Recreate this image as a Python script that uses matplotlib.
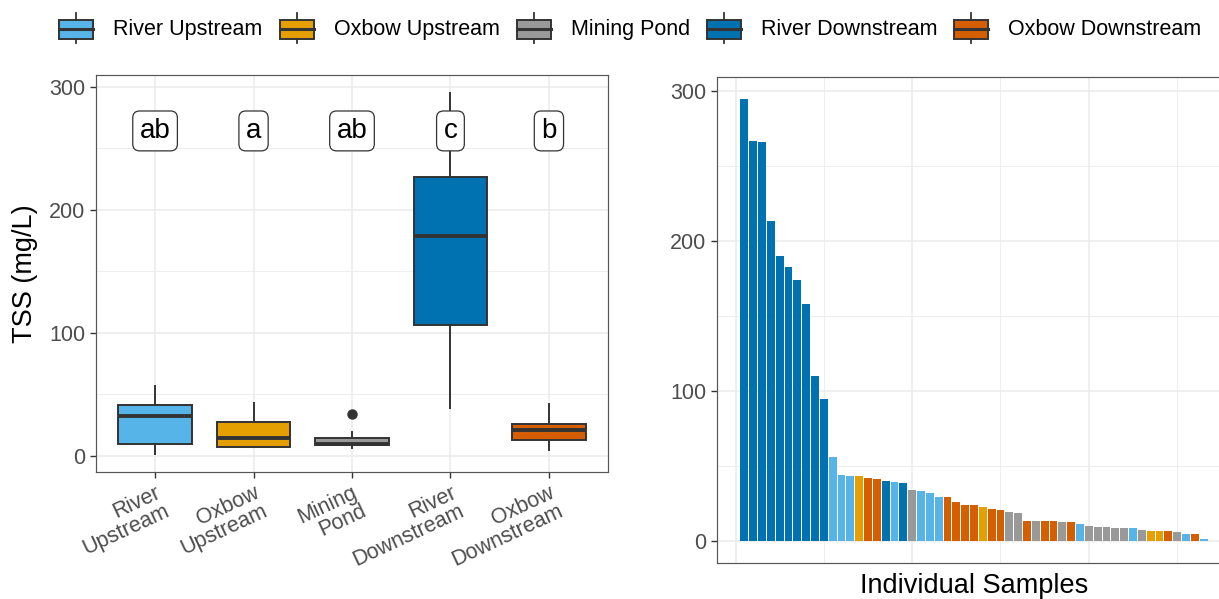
import matplotlib
matplotlib.use('Agg')
import matplotlib.pyplot as plt
import numpy as np
from matplotlib.legend_handler import HandlerBase
from matplotlib.patches import Rectangle, Patch
from matplotlib.lines import Line2D

plt.rcParams['font.family'] = ['Liberation Sans', 'DejaVu Sans']

# sites, in legend / axis order
site_codes = ['RU', 'OU', 'MP', 'RD', 'OD']
site_names = ['River Upstream', 'Oxbow Upstream', 'Mining Pond', 'River Downstream', 'Oxbow Downstream']
site_ticks = ['River\nUpstream', 'Oxbow\nUpstream', 'Mining\nPond', 'River\nDownstream', 'Oxbow\nDownstream']
site_colors = ['#56B4E9', '#E69F00', '#999999', '#0072B2', '#D55E00']
site_letters = ['ab', 'a', 'ab', 'c', 'b']

# individual samples (sorted)
sample_tss = [294.8, 266.7, 266.1, 213.6, 190.3, 182.7, 174.1, 158.1, 110.1, 94.7,
              56.3, 44.1, 43.6, 43.0, 42.3, 41.2, 40.3, 39.4, 38.5, 33.8,
              33.0, 32.1, 29.6, 29.2, 25.9, 24.1, 24.1, 22.7, 21.4, 20.7,
              19.0, 18.7, 13.4, 13.4, 13.2, 13.0, 12.7, 12.5, 11.0, 9.9,
              9.3, 9.3, 8.7, 8.7, 8.5, 7.2, 6.7, 6.7, 6.7, 6.2,
              4.7, 4.3, 1.4]
sample_site = ['RD', 'RD', 'RD', 'RD', 'RD', 'RD', 'RD', 'RD', 'RD', 'RD',
               'RU', 'RU', 'RU', 'OU', 'OD', 'OD', 'RD', 'RU', 'RD', 'MP',
               'RU', 'RU', 'RU', 'OD', 'OD', 'OD', 'OD', 'OU', 'OD', 'OD',
               'MP', 'MP', 'OD', 'MP', 'OD', 'OD', 'MP', 'OD', 'RU', 'MP',
               'MP', 'MP', 'MP', 'MP', 'RU', 'MP', 'OU', 'OU', 'OD', 'MP',
               'RU', 'OD', 'RU']

LABEL_Y = 264
EDGE = '#333333'
TICK_GREY = '#4D4D4D'
GRID = '#EBEBEB'


class BoxKey(HandlerBase):
    """legend key drawn like a little boxplot (ggplot style)"""

    def create_artists(self, legend, orig_handle, xdescent, ydescent,
                       width, height, fontsize, trans):
        x0, y0 = -xdescent, -ydescent
        fc = orig_handle.get_facecolor()
        b0 = y0 + 0.13 * height
        b1 = y0 + 0.77 * height
        xm = x0 + width / 2
        rect = Rectangle((x0, b0), width, b1 - b0, facecolor=fc, edgecolor=EDGE,
                         lw=1.4, transform=trans)
        med = Line2D([x0, x0 + width], [y0 + 0.45 * height] * 2, color=EDGE, lw=2.2, transform=trans)
        w_top = Line2D([xm, xm], [b1, y0 + height], color=EDGE, lw=1.3, transform=trans)
        w_bot = Line2D([xm, xm], [y0, b0], color=EDGE, lw=1.3, transform=trans)
        return [rect, med, w_top, w_bot]


def style_axes(ax):
    for s in ax.spines.values():
        s.set_color('#555555')
        s.set_linewidth(0.85)
    ax.set_axisbelow(True)
    ax.tick_params(axis='both', which='major', color=EDGE, width=1.0, length=4.5,
                   labelsize=15.5, labelcolor=TICK_GREY, pad=3)
    ax.tick_params(axis='both', which='minor', length=0)


tss = np.array(sample_tss)
site = np.array(sample_site)
groups = [tss[site == c] for c in site_codes]

fig = plt.figure(figsize=(12.19, 5.99), dpi=100)

# ---- left panel: boxplots ----
ax1 = fig.add_axes([96 / 1219, 1 - 472 / 599, 512 / 1219, 397 / 599])
pos = np.arange(1, len(site_codes) + 1)
bp = ax1.boxplot(groups, positions=pos, widths=0.75, patch_artist=True, whis=1.5,
                 showcaps=False,
                 boxprops=dict(edgecolor=EDGE, linewidth=1.4),
                 medianprops=dict(color=EDGE, linewidth=2.8, solid_capstyle='butt'),
                 whiskerprops=dict(color=EDGE, linewidth=1.4),
                 flierprops=dict(marker='o', markerfacecolor=EDGE, markeredgecolor=EDGE,
                                 markersize=6.5))
for patch, col in zip(bp['boxes'], site_colors):
    patch.set_facecolor(col)

for p, lab in zip(pos, site_letters):
    ax1.text(p, LABEL_Y, lab, ha='center', va='center', fontsize=20, color='black', zorder=5,
             bbox=dict(boxstyle='round,pad=0.25,rounding_size=0.25', fc='white', ec=EDGE, lw=0.9))

lo, hi = tss.min(), tss.max()
ax1.set_ylim(lo - 0.05 * (hi - lo), hi + 0.05 * (hi - lo))
ax1.set_xlim(0.4, len(site_codes) + 0.6)
ax1.set_yticks([0, 100, 200, 300])
ax1.set_yticks([50, 150, 250], minor=True)
ax1.set_xticks(pos)
ax1.set_xticklabels(site_ticks, rotation=25, ha='right', va='top', rotation_mode='anchor',
                    linespacing=0.95)
style_axes(ax1)
ax1.grid(which='major', color=GRID, lw=1.1)
ax1.grid(which='minor', axis='y', color=GRID, lw=0.6)
ax1.set_ylabel('TSS (mg/L)', fontsize=19.5, color='black', labelpad=8)

# ---- right panel: individual samples ----
ax2 = fig.add_axes([717 / 1219, 1 - 563 / 599, 514 / 1219, 486 / 599])
xs = np.arange(1, len(tss) + 1)
bar_cols = [site_colors[site_codes.index(s)] for s in sample_site]
ax2.bar(xs, tss, width=0.9, color=bar_cols, edgecolor='none')
span = (xs[-1] + 0.45) - (xs[0] - 0.45)
ax2.set_xlim(xs[0] - 0.45 - 0.05 * span, xs[-1] + 0.45 + 0.05 * span)
ax2.set_ylim(0 - 0.05 * hi, hi * 1.05)
ax2.set_yticks([0, 100, 200, 300])
ax2.set_yticks([50, 150, 250], minor=True)
ax2.set_xticks([0, 20, 40])
ax2.set_xticks([10, 30, 50], minor=True)
style_axes(ax2)
ax2.tick_params(axis='x', which='both', length=0, labelbottom=False)
ax2.grid(which='major', color=GRID, lw=1.1)
ax2.grid(which='minor', color=GRID, lw=0.6)
ax2.set_xlabel('Individual Samples', fontsize=19.5, color='black', labelpad=7)

# ---- legend ----
handles = [Patch(facecolor=c, label=n) for c, n in zip(site_colors, site_names)]
fig.legend(handles=handles, loc='center', bbox_to_anchor=(630.5 / 1219, 1 - 28 / 599),
           ncol=5, frameon=False, fontsize=15.5, handler_map={Patch: BoxKey()},
           handlelength=1.58, handleheight=1.7, handletextpad=0.93, columnspacing=0.79,
           borderpad=0.2)

fig.savefig('out.png', dpi=100)
